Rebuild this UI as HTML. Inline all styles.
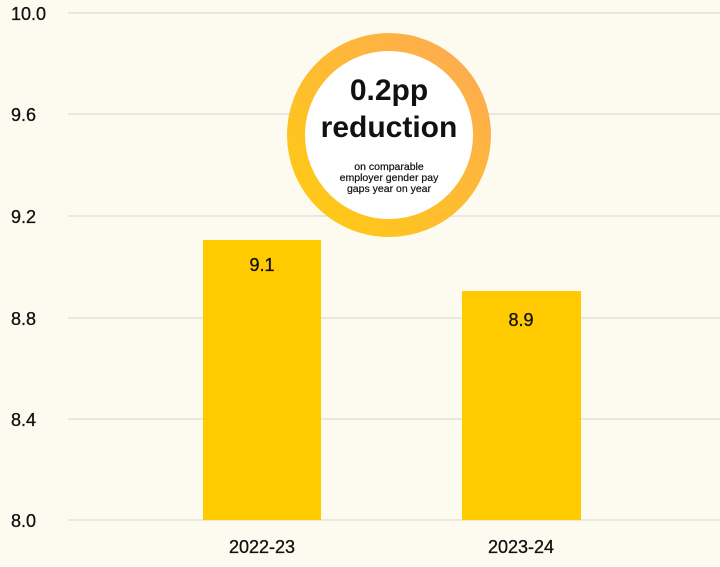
<!DOCTYPE html>
<html><head><style>
body{margin:0;background:#fdfbf0;}
svg{display:block;font-family:"Liberation Sans",sans-serif;}
</style></head><body>
<svg width="720" height="567" viewBox="0 0 720 567">
<rect width="720" height="567" fill="#fdfbf0"/>
<g stroke="#dcdcd6" stroke-width="1.2">
<line x1="68" x2="720" y1="13" y2="13"/>
<line x1="68" x2="720" y1="114" y2="114"/>
<line x1="68" x2="720" y1="216" y2="216"/>
<line x1="68" x2="720" y1="318" y2="318"/>
<line x1="68" x2="720" y1="419" y2="419"/>
<line x1="68" x2="720" y1="520" y2="520"/>
</g>
<g font-size="18" fill="#111" stroke="#111" stroke-width="0.3">
<text x="11" y="20">10.0</text>
<text x="11" y="121">9.6</text>
<text x="11" y="223">9.2</text>
<text x="11" y="325">8.8</text>
<text x="11" y="426">8.4</text>
<text x="11" y="527">8.0</text>
</g>
<rect x="203" y="240" width="118" height="280" fill="#ffcb00"/>
<rect x="462" y="291" width="119" height="229" fill="#ffcb00"/>
<g font-size="18" text-anchor="middle" fill="#111" stroke="#111" stroke-width="0.3">
<text x="262" y="271">9.1</text>
<text x="521" y="326">8.9</text>
<text x="262" y="553">2022-23</text>
<text x="521" y="553">2023-24</text>
</g>
<defs><linearGradient id="g" x1="0" y1="1" x2="1" y2="0">
<stop offset="0" stop-color="#ffcc10"/><stop offset="1" stop-color="#fdaa55"/></linearGradient></defs>
<circle cx="389" cy="135" r="93" fill="#fff" stroke="url(#g)" stroke-width="18"/>
<text x="389" y="100" font-size="30" font-weight="bold" text-anchor="middle" fill="#111">0.2pp</text>
<text x="389" y="137" font-size="30" font-weight="bold" text-anchor="middle" fill="#111">reduction</text>
<g font-size="10.5" text-anchor="middle" fill="#111" stroke="#111" stroke-width="0.2">
<text x="389" y="170">on comparable</text>
<text x="389" y="181">employer gender pay</text>
<text x="389" y="192">gaps year on year</text>
</g>
</svg>
</body></html>
